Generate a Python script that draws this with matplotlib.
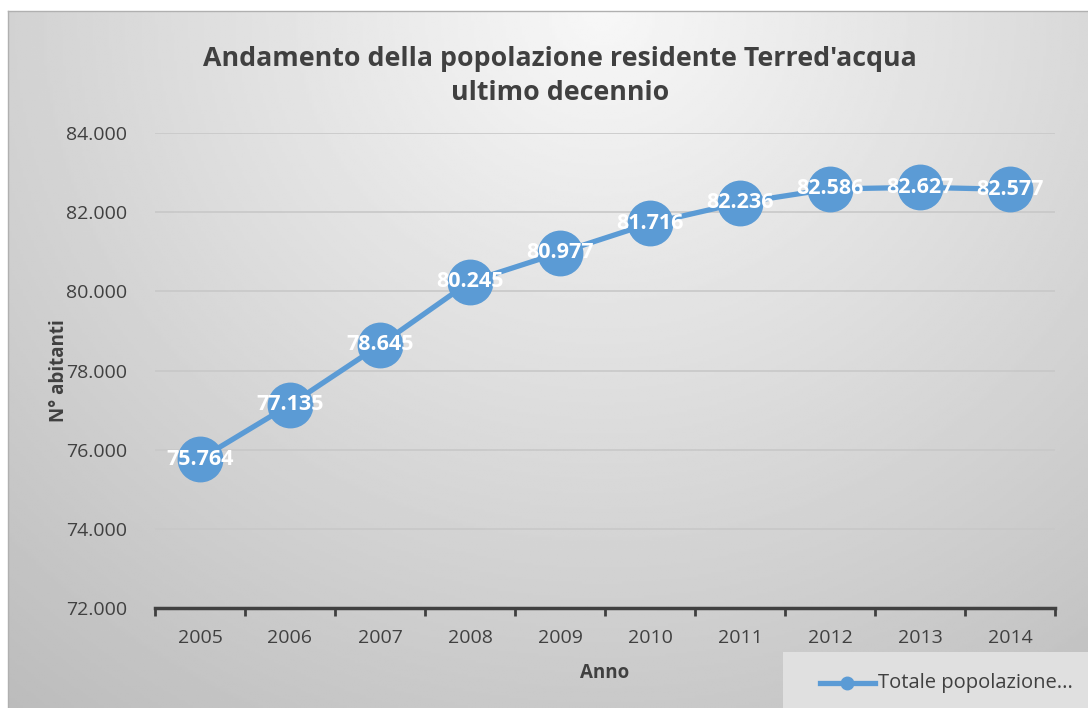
import numpy as np
import matplotlib.pyplot as plt
from matplotlib.ticker import FuncFormatter

anni = ['2005', '2006', '2007', '2008', '2009', '2010', '2011', '2012', '2013', '2014']
popolazione = [75764, 77135, 78645, 80245, 80977, 81716, 82236, 82586, 82627, 82577]


def punto_migliaia(v, pos=None):
    return '{:,.0f}'.format(v).replace(',', '.')


plt.rcParams['font.family'] = ['Open Sans', 'DejaVu Sans']

fig = plt.figure(figsize=(10.88, 7.08), dpi=100)

# sfondo sfumato dell'area grafico
bg = fig.add_axes([8 / 1088, 0, 1 - 8 / 1088, 1 - 11 / 708])
yy, xx = np.mgrid[0:1:300j, 0:1:400j]
d = np.sqrt(((xx - 0.55) / 0.75) ** 2 + ((yy - 0.0) / 1.1) ** 2)
shade = 0.97 - 0.2 * np.clip(d, 0, 1.2)
bg.imshow(shade, cmap='gray', vmin=0, vmax=1, extent=[0, 1, 0, 1], aspect='auto')
bg.set_xticks([])
bg.set_yticks([])
for s in ['right', 'bottom']:
    bg.spines[s].set_visible(False)
for s in ['top', 'left']:
    bg.spines[s].set_color('#b0b0b0')
    bg.spines[s].set_linewidth(1)

ax = fig.add_axes([155 / 1088, 1 - 608 / 708, 900 / 1088, 475 / 708])
ax.patch.set_alpha(0)
x = np.arange(len(anni))
ax.plot(x, popolazione, color='#5b9bd5', linewidth=3.8, marker='o', markersize=32,
        zorder=3)
for xi, v in zip(x, popolazione):
    ax.text(xi, v, punto_migliaia(v), color='white', fontsize=15.5, fontweight='bold',
            ha='center', va='center', zorder=4)

ax.set_xlim(-0.5, len(anni) - 0.5)
ax.set_ylim(72000, 84000)
ax.set_yticks(np.arange(72000, 84001, 2000))
ax.yaxis.set_major_formatter(FuncFormatter(punto_migliaia))
ax.set_xticks(x)
ax.set_xticklabels(anni)
ax.set_xticks(np.arange(-0.5, len(anni), 1), minor=True)
ax.tick_params(axis='x', which='major', length=0, pad=15, labelsize=14, labelcolor='#404040')
ax.tick_params(axis='x', which='minor', length=6, width=2, color='#404040')
ax.tick_params(axis='y', length=0, pad=20, labelsize=14, labelcolor='#404040')
ax.grid(axis='y', color='#c8c8c8', linewidth=1.2)
ax.set_axisbelow(True)
for s in ['top', 'right', 'left']:
    ax.spines[s].set_visible(False)
ax.spines['bottom'].set_color('#404040')
ax.spines['bottom'].set_linewidth(2.5)

ax.set_xlabel('Anno', fontsize=13.5, fontweight='bold', color='#404040', labelpad=12)
ax.set_ylabel('N° abitanti', fontsize=13.5, fontweight='bold', color='#404040', labelpad=-2)

fig.text(560 / 1088, 1 - 76 / 708,
         "Andamento della popolazione residente Terred'acqua\nultimo decennio",
         ha='center', va='center', fontsize=19.3, fontweight='bold', color='#404040',
         linespacing=1.45)

# legenda
leg_ax = fig.add_axes([783 / 1088, 0, 305 / 1088, 56 / 708])
leg_ax.set_facecolor('#e0e0e0')
leg_ax.set_xticks([])
leg_ax.set_yticks([])
for s in leg_ax.spines.values():
    s.set_visible(False)
leg_ax.plot([0.12, 0.3], [0.45, 0.45], color='#5b9bd5', linewidth=3.8)
leg_ax.plot([0.21], [0.45], color='#5b9bd5', marker='o', markersize=9)
leg_ax.set_xlim(0, 1)
leg_ax.set_ylim(0, 1)
leg_ax.text(0.31, 0.45, 'Totale popolazione...', fontsize=14.5, color='#404040',
            ha='left', va='center')

fig.savefig('out.png', dpi=100)
